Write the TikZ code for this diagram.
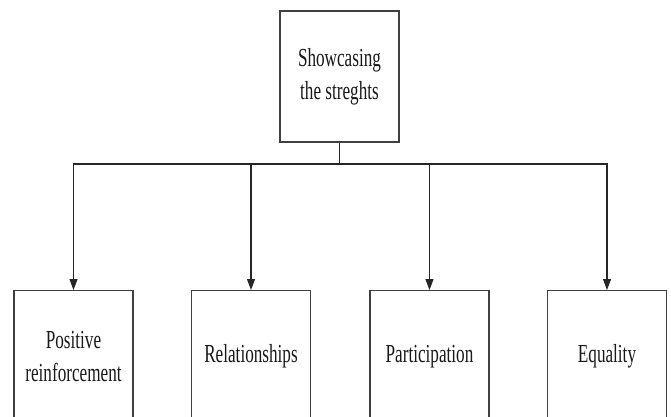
\documentclass[tikz,border=0pt]{standalone}
\usepackage{fontspec}
\setmainfont{Liberation Serif}
\usetikzlibrary{arrows.meta}
\newcommand{\narrow}[1]{\scalebox{0.66}[1]{#1}}
\begin{document}
\begin{tikzpicture}[x=1pt,y=-1pt,
  box/.style={draw=black!75, line width=1.1pt, fill=white, inner sep=0pt,
    minimum width=119pt, align=center, text=black!90,
    font=\fontsize{26}{33}\selectfont},
  child/.style={box, minimum height=132pt, anchor=north},
  link/.style={draw=black!85, line width=1.1pt},
  arr/.style={link, -{Triangle[width=8pt,length=11pt]}}]
\clip (0,0) rectangle (671,416);
\fill[white] (0,0) rectangle (671,416);
% root
\node[box, minimum height=131pt] (root) at (339.5,76.5)
  {\narrow{Showcasing}\\\narrow{the streghts}};
% children
\node[child] (c1) at (73.5,290) {\narrow{Positive}\\\narrow{reinforcement}};
\node[child] (c2) at (251,290) {\narrow{Relationships}};
\node[child] (c3) at (429.5,290) {\narrow{Participation}};
\node[child] (c4) at (607,290) {\narrow{Equality}};
% connectors through a common bus
\coordinate (bus) at (339.5,164);
\draw[link] (root.south) -- (bus);
\foreach \c in {c1,c2,c3,c4}
  \draw[arr] (bus) -| (\c.north);
\end{tikzpicture}
\end{document}
